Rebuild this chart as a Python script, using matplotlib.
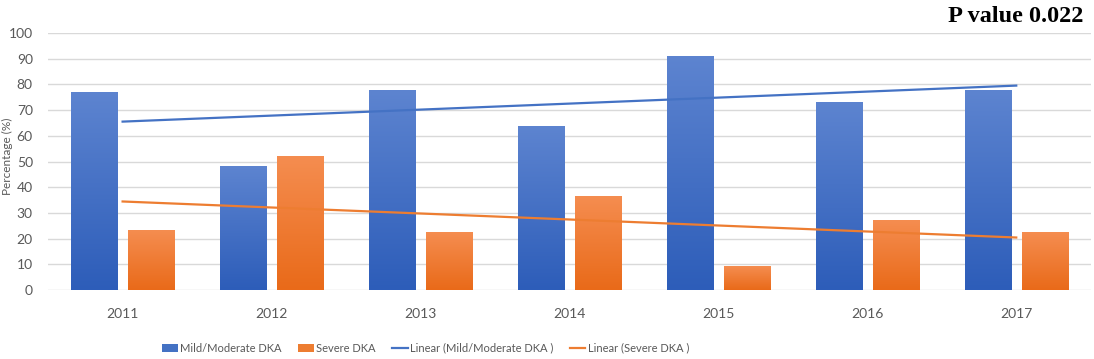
import matplotlib.pyplot as plt
import numpy as np
from matplotlib.colors import LinearSegmentedColormap
from matplotlib.lines import Line2D
from matplotlib.patches import Patch

years = ['2011', '2012', '2013', '2014', '2015', '2016', '2017']
mild = [77.0, 48.0, 77.6, 63.6, 90.9, 73.0, 77.7]
severe = [23.0, 52.0, 22.4, 36.4, 9.1, 27.0, 22.3]

blue, orange = '#4472C4', '#ED7D31'
blue_cmap = LinearSegmentedColormap.from_list('b', ['#2D5DB9', '#5D84D0'])
orange_cmap = LinearSegmentedColormap.from_list('o', ['#E96A19', '#F58D50'])

plt.rcParams['font.family'] = ['Lato', 'DejaVu Sans']

fig = plt.figure(figsize=(10.94, 3.59), dpi=100)
ax = fig.add_axes([0.044, 0.192, 0.953, 0.716])

x = np.arange(len(years))
w = 0.31
off = 0.192
grad = np.linspace(0, 1, 256).reshape(-1, 1)


def gradient_bars(pos, vals, cmap):
    bars = ax.bar(pos, vals, w, color='none', zorder=2)
    for b in bars:
        x0, h = b.get_x(), b.get_height()
        ax.imshow(grad, cmap=cmap, origin='lower', aspect='auto',
                  extent=(x0, x0 + b.get_width(), 0, h), zorder=2)


gradient_bars(x - off, mild, blue_cmap)
gradient_bars(x + off, severe, orange_cmap)

# linear trendlines
for vals, c in [(mild, blue), (severe, orange)]:
    k, b = np.polyfit(x, vals, 1)
    ax.plot([x[0], x[-1]], [k * x[0] + b, k * x[-1] + b], color=c, lw=1.6, zorder=3)

ax.set_xlim(-0.5, len(years) - 0.5)
ax.set_ylim(0, 100)
ax.set_yticks(range(0, 101, 10))
ax.set_xticks(x)
ax.set_xticklabels(years)
ax.grid(axis='y', color='#D9D9D9', lw=1)
ax.set_axisbelow(True)
for s in ax.spines.values():
    s.set_visible(False)
ax.tick_params(length=0, labelsize=10, labelcolor='#595959')
ax.tick_params(axis='y', pad=11)
ax.tick_params(axis='x', pad=13)
ax.set_ylabel('Percentage (%)', fontsize=8.5, color='#595959')
ax.yaxis.set_label_coords(-0.034, 0.52)

handles = [Patch(facecolor=blue), Patch(facecolor=orange),
           Line2D([], [], color=blue, lw=1.6), Line2D([], [], color=orange, lw=1.6)]
labels = ['Mild/Moderate DKA', 'Severe DKA', 'Linear (Mild/Moderate DKA )', 'Linear (Severe DKA )']
fig.legend(handles, labels, loc='center', bbox_to_anchor=(0.389, 0.03), ncol=4,
           frameon=False, fontsize=8, labelcolor='#595959', handlelength=1.4,
           handletextpad=0.2, columnspacing=1.5)

fig.text(0.99, 0.955, 'P value 0.022', ha='right', va='center', fontsize=17.5,
         fontweight='bold', family='Liberation Serif')

fig.savefig('out.png', dpi=100)
